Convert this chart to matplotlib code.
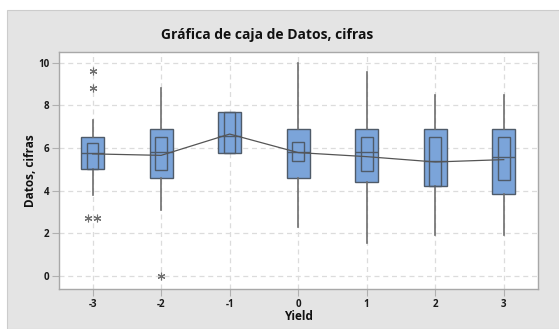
import matplotlib
matplotlib.use("Agg")
import matplotlib.pyplot as plt
from matplotlib.patches import Rectangle

plt.rcParams['font.family'] = ['Open Sans', 'DejaVu Sans']

# Boxplot summary per Yield level
yield_levels = [-3, -2, -1, 0, 1, 2, 3]
q1 = [5.00, 4.60, 5.78, 4.60, 4.40, 4.21, 3.82]
median = [5.78, 5.79, 6.55, 5.82, 5.79, 5.38, 5.59]
q3 = [6.50, 6.89, 7.69, 6.89, 6.89, 6.89, 6.89]
whisker_low = [3.79, 3.08, 5.78, 2.30, 1.52, 1.91, 1.91]
whisker_high = [7.31, 8.80, 7.69, 9.97, 9.58, 8.48, 8.48]
ci_low = [5.02, 4.96, 5.78, 5.38, 4.91, 4.21, 4.49]
ci_high = [6.25, 6.50, 7.69, 6.26, 6.50, 6.50, 6.50]
mean = [5.72, 5.65, 6.65, 5.78, 5.59, 5.34, 5.45]

# Outliers: (Yield level, offset for overlapping points, value)
outlier_x = [-3, -3, -3, -3, -2]
outlier_offset = [0.0, 0.0, -0.06, 0.06, 0.0]
outlier_y = [9.61, 8.83, 2.69, 2.69, 0.0]

y_ticks = [0, 2, 4, 6, 8, 10]

box_face = '#7ba4d9'
box_edge = '#4f5b69'
whisker_col = '#6e6e6e'

fig = plt.figure(figsize=(5.59, 3.29), dpi=100, facecolor='white')
fig.patches.append(Rectangle((7 / 559, 0), 1, 1 - 10 / 329, transform=fig.transFigure,
                             facecolor='#e4e4e4', edgecolor='#cccccc', lw=0.8, zorder=-10))

ax = fig.add_axes([59 / 559, 1 - 289 / 329, (538 - 59) / 559, (289 - 52) / 329])
ax.set_facecolor('white')

stats = []
for i, x in enumerate(yield_levels):
    stats.append(dict(med=median[i], q1=q1[i], q3=q3[i],
                      whislo=whisker_low[i], whishi=whisker_high[i],
                      fliers=[], label=str(x)))

ax.bxp(stats, positions=yield_levels, widths=0.335, patch_artist=True,
       showcaps=False, showfliers=False,
       boxprops=dict(facecolor=box_face, edgecolor=box_edge, linewidth=1.0),
       whiskerprops=dict(color=whisker_col, linewidth=1.2),
       medianprops=dict(color=box_edge, linewidth=1.0),
       zorder=3)

# Median confidence interval boxes
ci_w = 0.17
for i, x in enumerate(yield_levels):
    ax.add_patch(Rectangle((x - ci_w / 2, ci_low[i]), ci_w, ci_high[i] - ci_low[i],
                           facecolor='none', edgecolor=box_edge, lw=1.0, zorder=4))

# Mean connect line
ax.plot(yield_levels, mean, color='#555555', lw=0.9, zorder=5)

# Outliers
ax.plot([x + o for x, o in zip(outlier_x, outlier_offset)], outlier_y,
        linestyle='none', marker=(6, 2, 0), markersize=5.5,
        markeredgecolor='#707070', markeredgewidth=0.8, zorder=5)

ax.set_xlim(-3.49, 3.5)
ax.set_ylim(-0.62, 10.5)
ax.set_xticks(yield_levels)
ax.set_xticklabels([str(v) for v in yield_levels])
ax.set_yticks(y_ticks)
ax.set_yticklabels([str(v) for v in y_ticks])

ax.grid(True, color='#dcdcdc', linestyle=(0, (4, 3)), linewidth=0.9, zorder=0)
ax.set_axisbelow(True)

for s in ax.spines.values():
    s.set_color('#a8a8a8')
    s.set_linewidth(1.0)

ax.tick_params(axis='both', length=5, width=0.8, color='#b0b0b0', pad=2,
               labelsize=7, labelcolor='#1a1a1a')
for lab in ax.get_xticklabels() + ax.get_yticklabels():
    lab.set_fontweight('bold')

ax.set_xlabel('Yield', fontsize=8.5, fontweight='bold', labelpad=0, color='#111111')
ax.set_ylabel('Datos, cifras', fontsize=8.5, fontweight='bold', labelpad=1, color='#111111')

fig.text(267 / 559, 1 - 35 / 329, 'Gráfica de caja de Datos, cifras', ha='center', va='center',
         fontsize=10, fontweight='bold', color='#111111')

fig.savefig('out.png', dpi=100, facecolor=fig.get_facecolor())
